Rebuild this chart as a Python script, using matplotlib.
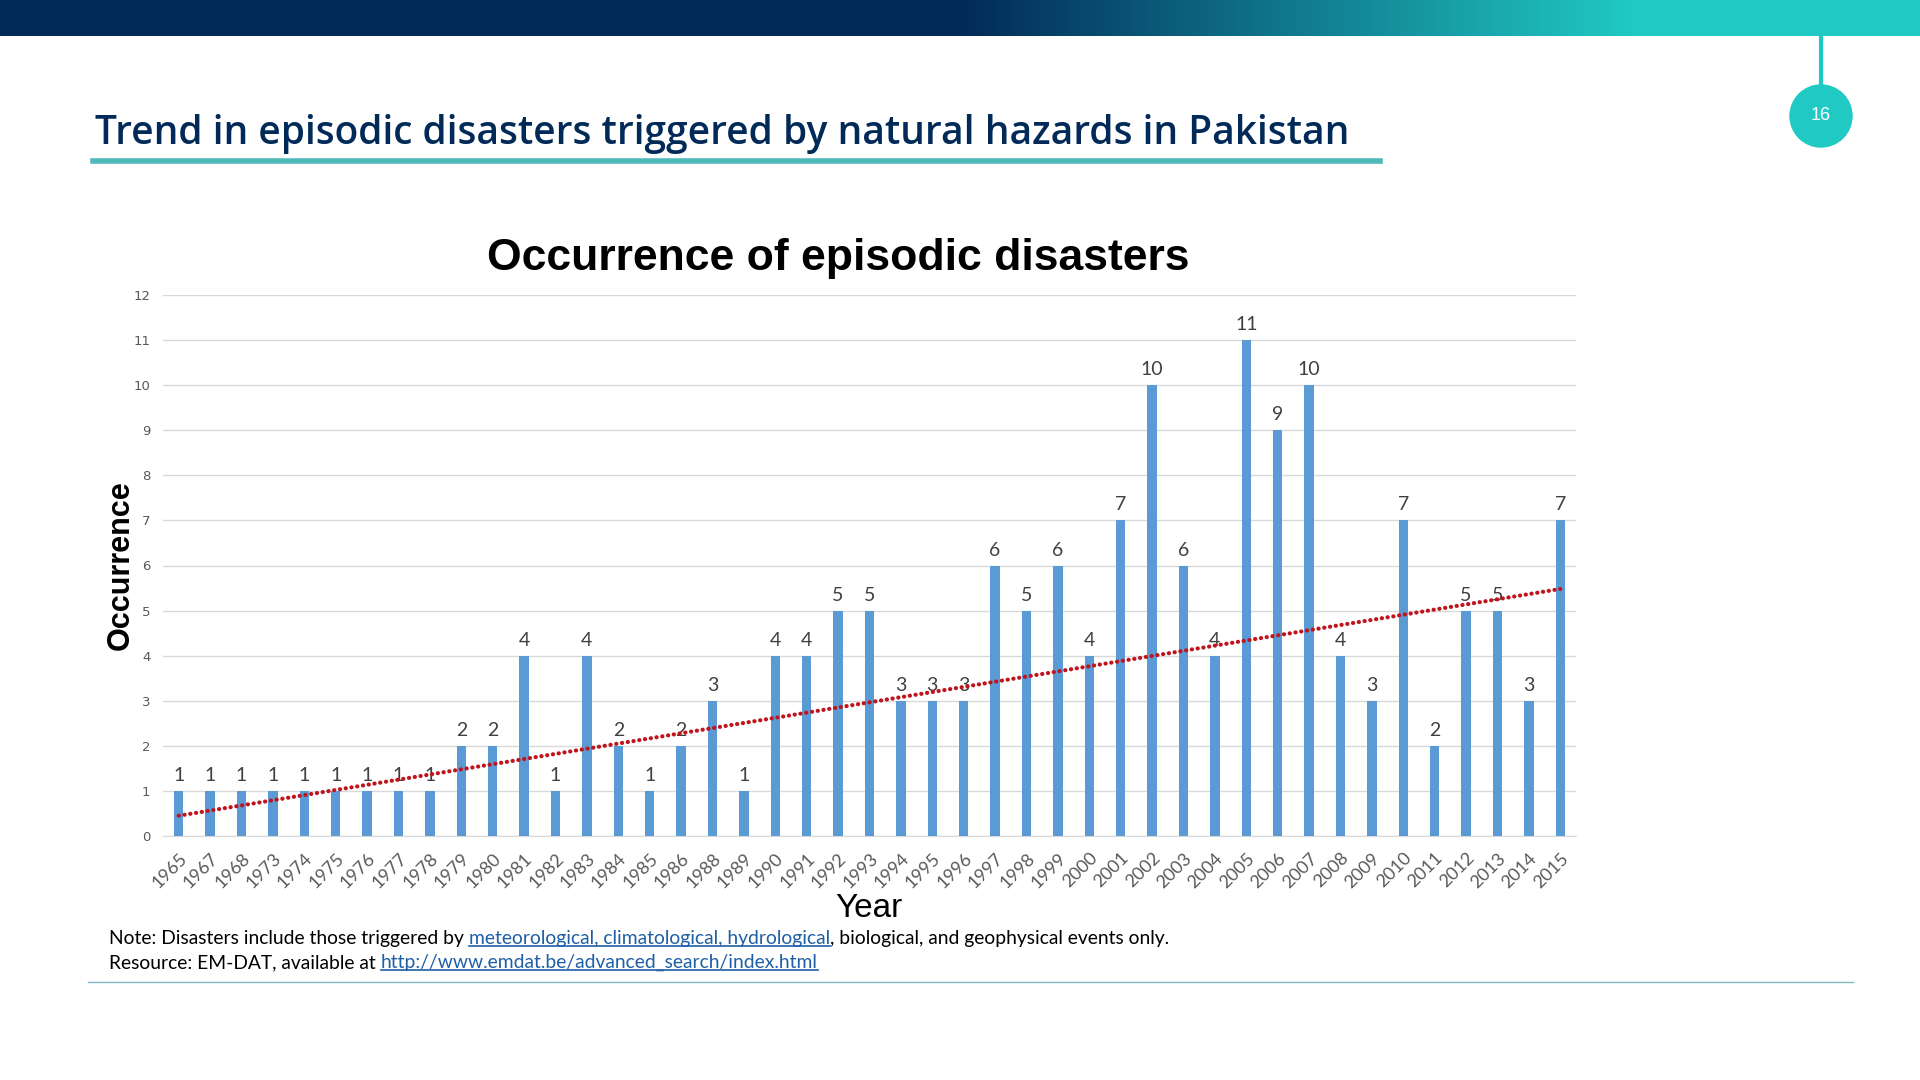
import matplotlib
matplotlib.use('Agg')
import matplotlib.pyplot as plt
import numpy as np
from matplotlib.patches import Circle
from matplotlib.lines import Line2D

# Data
years = ['1965', '1967', '1968', '1973', '1974', '1975', '1976', '1977', '1978', '1979',
         '1980', '1981', '1982', '1983', '1984', '1985', '1986', '1988', '1989', '1990',
         '1991', '1992', '1993', '1994', '1995', '1996', '1997', '1998', '1999', '2000',
         '2001', '2002', '2003', '2004', '2005', '2006', '2007', '2008', '2009', '2010',
         '2011', '2012', '2013', '2014', '2015']
occurrence = [1, 1, 1, 1, 1, 1, 1, 1, 1, 2,
              2, 4, 1, 4, 2, 1, 2, 3, 1, 4,
              4, 5, 5, 3, 3, 3, 6, 5, 6, 4,
              7, 10, 6, 4, 11, 9, 10, 4, 3, 7,
              2, 5, 5, 3, 7]
# linear trendline (value at first and last year)
trend_ends = [0.45, 5.48]
yticks = list(range(0, 13))

page_title = 'Trend in episodic disasters triggered by natural hazards in Pakistan'
chart_title = 'Occurrence of episodic disasters'

NAVY = '#022a58'
TEAL = '#20c9c4'
BAR = '#5b9bd5'
LINK = '#1f5fa6'

fig = plt.figure(figsize=(19.2, 10.8), dpi=100)

# top gradient banner
ban = fig.add_axes([0, 1 - 36 / 1080, 1, 36 / 1080])
xs = np.linspace(0, 1, 600)
t = np.clip((xs - 0.5) / 0.35, 0, 1)
c0 = np.array(matplotlib.colors.to_rgb(NAVY))
c1 = np.array(matplotlib.colors.to_rgb(TEAL))
grad = (c0[None, :] * (1 - t[:, None]) + c1[None, :] * t[:, None])[None, :, :]
ban.imshow(grad, aspect='auto', extent=[0, 1, 0, 1])
ban.axis('off')

# page number marker
fig.add_artist(Line2D([1821 / 1920, 1821 / 1920], [1 - 36 / 1080, 1 - 86 / 1080],
                      color=TEAL, lw=3))
fig.add_artist(Circle((18.21, 10.8 - 1.16), 0.31, color=TEAL,
                      transform=fig.dpi_scale_trans))
fig.text(1821 / 1920, 1 - 116 / 1080, '16', color='white', fontsize=13,
         family='Liberation Sans', ha='center', va='center')

# page title + underline
fig.text(95 / 1920, 1 - 134 / 1080, page_title, fontsize=28, color=NAVY,
         family='Open Sans', fontweight='semibold', va='center')
fig.add_artist(Line2D([93 / 1920, 1380 / 1920], [1 - 161 / 1080, 1 - 161 / 1080],
                      color='#4fb9b9', lw=4))

# chart
ax = fig.add_axes([163 / 1920, 1 - 836 / 1080, (1576 - 163) / 1920, (836 - 295) / 1080])
x = np.arange(len(years))
ax.bar(x, occurrence, 0.3, color=BAR, zorder=3)
for xi, v in zip(x, occurrence):
    ax.annotate(str(v), (xi, v), xytext=(0, 5), textcoords='offset points',
                ha='center', va='bottom', fontsize=14, color='#404040', family='Lato')

ax.plot([x[0], x[-1]], trend_ends, color='#c0141c', lw=3, ls=(0, (0.05, 1.35)),
        dash_capstyle='round', zorder=4)

ax.set_xlim(-0.5, len(years) - 0.5)
ax.set_ylim(0, 12)
ax.set_yticks(yticks)
ax.set_yticklabels([str(v) for v in yticks], fontsize=9.5, color='#595959', family='DejaVu Sans')
ax.set_xticks(x)
ax.set_xticklabels(years, rotation=45, ha='right', rotation_mode='anchor',
                   fontsize=13, color='#595959', family='Lato')
ax.tick_params(length=0, pad=10)
ax.tick_params(axis='y', pad=9)
ax.grid(axis='y', color='#d9d9d9', lw=1, zorder=0)
for s in ['top', 'right', 'left']:
    ax.spines[s].set_visible(False)
ax.spines['bottom'].set_color('#d9d9d9')

ax.set_title(chart_title, fontsize=32, fontweight='bold', family='Liberation Sans',
             pad=18, x=(838 - 163) / (1576 - 163))
ax.set_ylabel('Occurrence', fontsize=22, fontweight='bold', family='Liberation Sans')
ax.yaxis.set_label_coords(-0.019, 0.5)
ax.set_xlabel('Year', fontsize=24, family='Liberation Sans')
ax.xaxis.set_label_coords((869 - 163) / (1576 - 163), -0.105)

# note lines with underlined links
renderer = fig.canvas.get_renderer()


def seq_text(x0, y0, parts):
    xcur = x0
    for s, color, underline in parts:
        tx = fig.text(xcur, y0, s, fontsize=13.9, color=color, family='Lato', va='baseline')
        bb = tx.get_window_extent(renderer)
        if underline:
            fig.add_artist(Line2D([bb.x0 / 1920, bb.x1 / 1920],
                                  [(bb.y0 + 1) / 1080, (bb.y0 + 1) / 1080],
                                  color=color, lw=1.2))
        xcur = bb.x1 / 1920


seq_text(109 / 1920, 1 - 944 / 1080, [
    ('Note: Disasters include those triggered by ', 'black', False),
    ('meteorological, climatological, hydrological', LINK, True),
    (', biological, and geophysical events only.', 'black', False),
])
seq_text(109 / 1920, 1 - 968 / 1080, [
    ('Resource: EM-DAT, available at ', 'black', False),
    ('http://www.emdat.be/advanced_search/index.html', LINK, True),
])

fig.add_artist(Line2D([88 / 1920, 1853 / 1920], [1 - 982 / 1080, 1 - 982 / 1080],
                      color='#7fb8c0', lw=1))

plt.savefig('out.png', dpi=100)
